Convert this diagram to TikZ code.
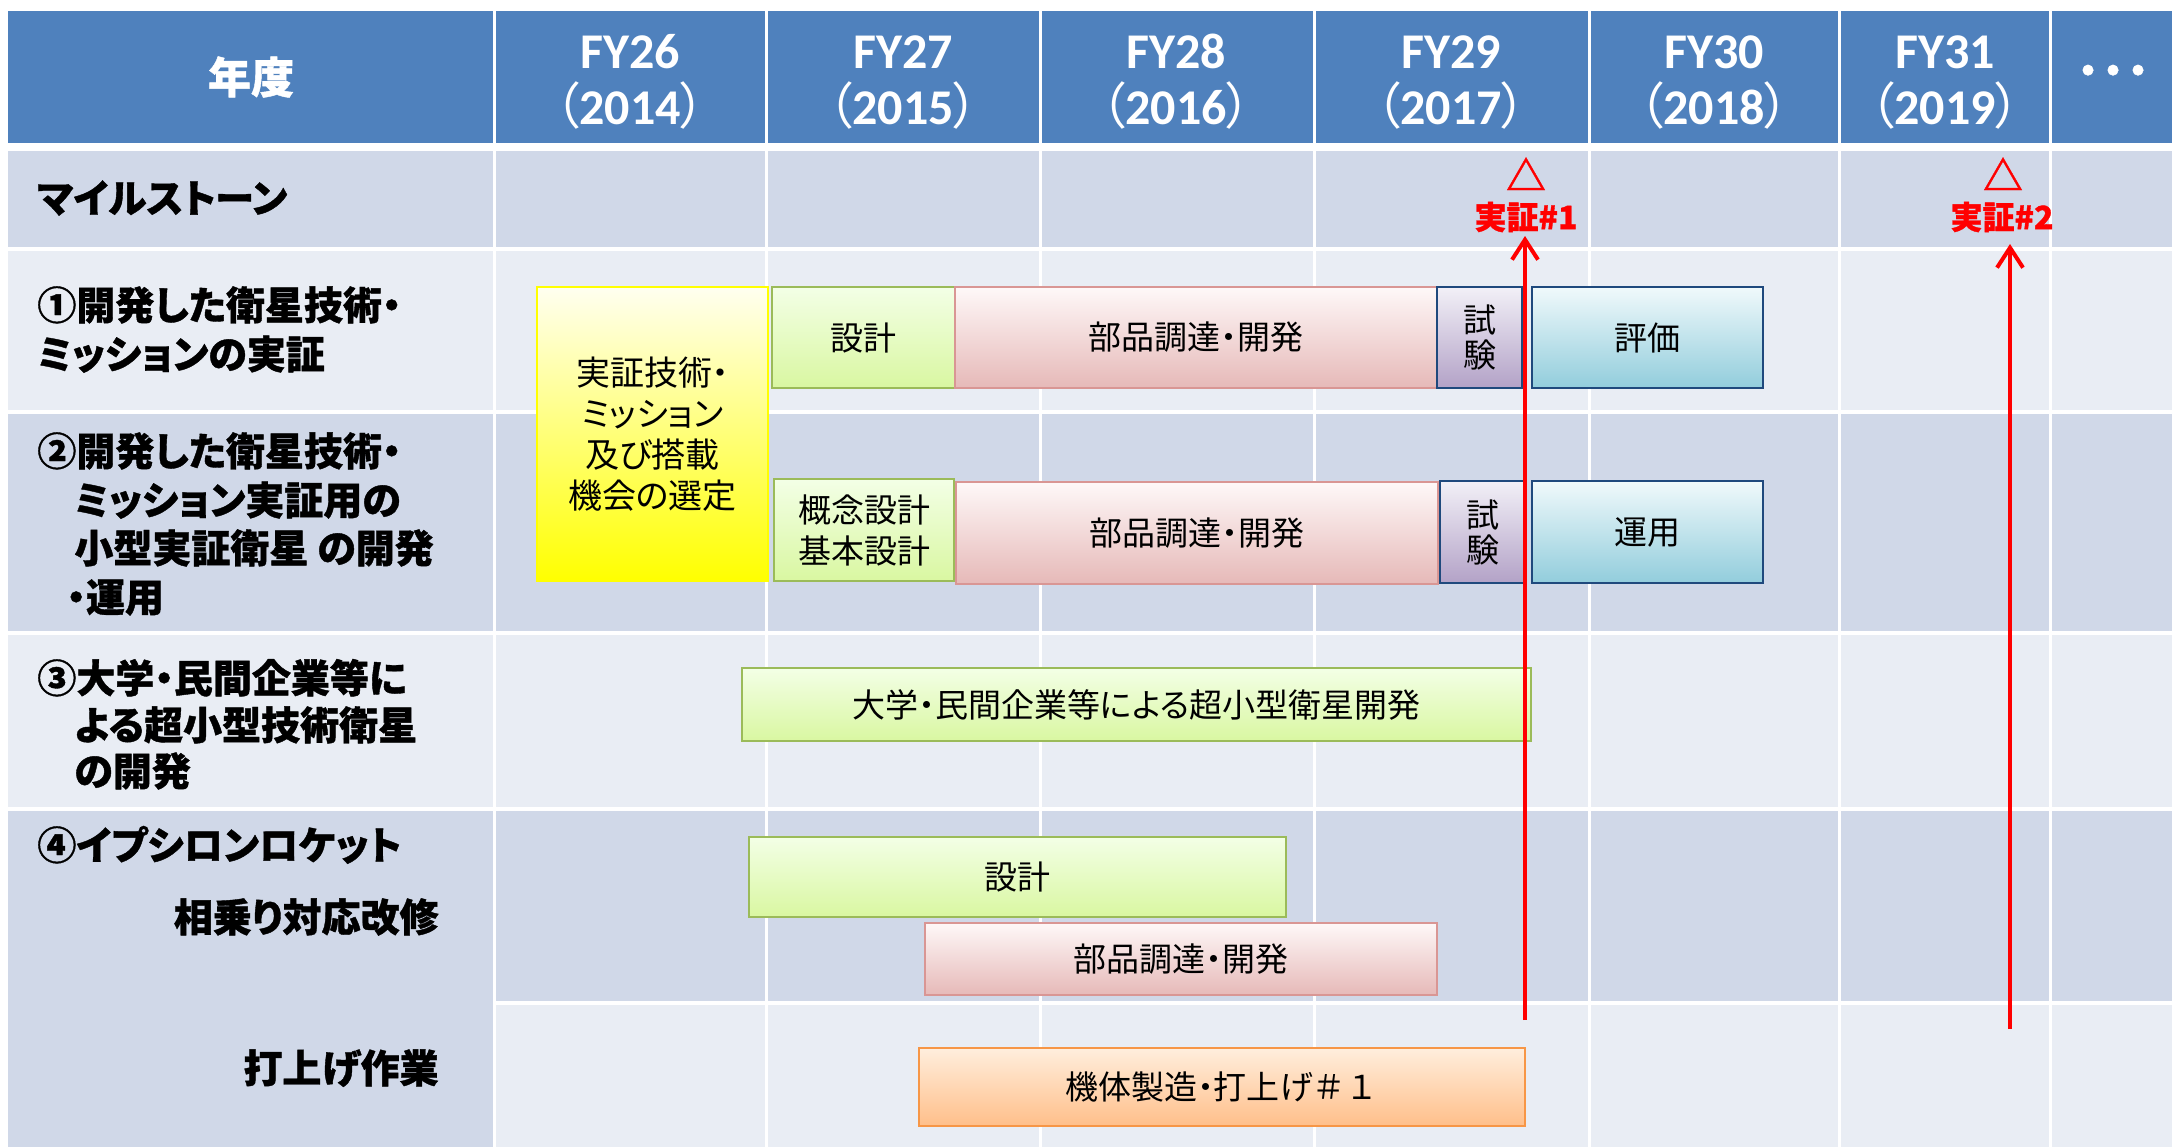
\documentclass[tikz,border=0pt]{standalone}
\usepackage{fontspec}
\setmainfont{Noto Sans CJK JP}[RawFeature=+palt, BoldFeatures={FakeBold=1}]
\newfontfamily\nopalt{Noto Sans CJK JP}
\newfontfamily\carl{Carlito}
\usetikzlibrary{arrows.meta}
\definecolor{hdr}{HTML}{4F81BD}
\definecolor{rowdk}{HTML}{D0D8E8}
\definecolor{rowlt}{HTML}{E9EDF4}
\definecolor{grnT}{HTML}{F3FFE6}
\definecolor{grnB}{HTML}{D9F7A1}
\definecolor{grnL}{HTML}{9BBB59}
\definecolor{pnkT}{HTML}{FEF8F8}
\definecolor{pnkB}{HTML}{E6B9B8}
\definecolor{pnkL}{HTML}{D99694}
\definecolor{prpT}{HTML}{F2F0F7}
\definecolor{prpB}{HTML}{B3A2C7}
\definecolor{bluT}{HTML}{F0F9FB}
\definecolor{bluB}{HTML}{92CDDC}
\definecolor{navL}{HTML}{1F497D}
\definecolor{ylwT}{HTML}{FFFFF0}
\definecolor{ylw}{HTML}{FFFF00}
\definecolor{orgT}{HTML}{FFEEDD}
\definecolor{orgB}{HTML}{FFBF8A}
\definecolor{orgL}{HTML}{F79646}
\definecolor{msred}{HTML}{FF0000}
\newcommand\taskbox[7]{%
  \pgfmathsetmacro\tbw{(#5-#3)*0.5}%
  \pgfmathsetmacro\tbh{(#6-#4)*0.5}%
  \node[#2, minimum width=\tbw pt, minimum height=\tbh pt] (#1) at ({(#3+#5)/2},{(#4+#6)/2}) {#7};}
\begin{document}
\begin{tikzpicture}[x=0.5pt,y=-0.5pt,
  lbl/.style={font=\bfseries\fontsize{19.5}{24}\selectfont, inner sep=0pt, text height=17.1pt, text depth=2.4pt},
  hd/.style={font=\bfseries\fontsize{25}{28}\selectfont, text=white, align=center, inner sep=0pt},
  barbase/.style={draw, line width=1.2pt, inner sep=0pt, align=center, font=\fontsize{16.5}{20.5}\selectfont, shading=axis},
  grnbar/.style={barbase, draw=grnL, top color=grnT, bottom color=grnB},
  pnkbar/.style={barbase, draw=pnkL, top color=pnkT, bottom color=pnkB},
  prpbar/.style={barbase, draw=navL, top color=prpT, bottom color=prpB, font=\fontsize{16.5}{17.5}\selectfont},
  blubar/.style={barbase, draw=navL, top color=bluT, bottom color=bluB},
  orgbar/.style={barbase, draw=orgL, top color=orgT, bottom color=orgB},
  ylwbar/.style={barbase, draw=ylw, top color=ylwT, middle color=ylw, bottom color=ylw, font=\fontsize{17}{20.5}\selectfont},
  mstri/.style={text=msred, font=\bfseries\fontsize{20}{20}\selectfont, inner sep=0pt},
  mstxt/.style={text=msred, font=\bfseries\fontsize{16}{16}\selectfont, inner sep=0pt},
  redarrow/.style={draw=msred, line width=2pt, -{Straight Barb[length=10pt, width=13pt, line width=2pt]}},
  gridline/.style={white, line width=1.5pt}]
\fill[white] (0,0) rectangle (2172,1147);
\useasboundingbox (0,0) rectangle (2172,1147);
% row bands
\fill[hdr] (8,11) rectangle (2172,143);
\fill[rowdk] (8,151) rectangle (2172,247);
\fill[rowlt] (8,251) rectangle (2172,410);
\fill[rowdk] (8,414) rectangle (2172,631);
\fill[rowlt] (8,635) rectangle (2172,807);
\fill[rowdk] (8,811) rectangle (2172,1001);
\fill[rowdk] (8,1000) rectangle (494,1147);
\fill[rowlt] (494,1005) rectangle (2172,1147);
\foreach \x in {494,766,1040,1314,1589,1839,2050} \draw[gridline] (\x,11) -- (\x,1147);
% header texts
\node[hd, font=\bfseries\fontsize{21.5}{24}\selectfont] (h0) at (251,77) {年度};
\node[hd] (h1) at (630,82) {{\carl FY26}\\{\mdseries （}{\carl 2014}{\mdseries ）}};
\node[hd] (h2) at (903,82) {{\carl FY27}\\{\mdseries （}{\carl 2015}{\mdseries ）}};
\node[hd] (h3) at (1176,82) {{\carl FY28}\\{\mdseries （}{\carl 2016}{\mdseries ）}};
\node[hd] (h4) at (1451,82) {{\carl FY29}\\{\mdseries （}{\carl 2017}{\mdseries ）}};
\node[hd] (h5) at (1714,82) {{\carl FY30}\\{\mdseries （}{\carl 2018}{\mdseries ）}};
\node[hd] (h6) at (1945,82) {{\carl FY31}\\{\mdseries （}{\carl 2019}{\mdseries ）}};
\node[hd] (h7) at (2113,77) {･･･};
% row labels
\node[lbl, anchor=west] (lm) at (37,198) {マイルストーン};
\node[lbl, anchor=west] (l1a) at (37,305) {①開発した衛星技術・};
\node[lbl, anchor=west] (l1b) at (37,354) {ミッションの実証};
\node[lbl, anchor=west] (l2a) at (37,451) {②開発した衛星技術・};
\node[lbl, anchor=west] (l2b) at (74,500) {ミッション実証用の};
\node[lbl, anchor=west] (l2c) at (74,548) {小型実証衛星 の開発};
\node[lbl, anchor=west] (l2d) at (66,597) {・運用};
\node[lbl, anchor=west] (l3a) at (37,678) {③大学・民間企業等に};
\node[lbl, anchor=west] (l3b) at (74,725) {よる超小型技術衛星};
\node[lbl, anchor=west] (l3c) at (74,771) {の開発};
\node[lbl, anchor=west] (l4a) at (37,845) {④イプシロンロケット};
\node[lbl, anchor=east] (l4b) at (439,917) {相乗り対応改修};
\node[lbl, anchor=east] (l4c) at (439,1068) {打上げ作業};
% task bars
\taskbox{sel}{ylwbar}{537}{287}{768}{581}{実証技術・\\ミッション\\及び搭載\\機会の選定}
\taskbox{d1}{grnbar}{772}{287}{955}{388}{設計}
\taskbox{p1}{pnkbar}{955}{287}{1437}{388}{部品調達・開発}
\taskbox{t1}{prpbar}{1437}{287}{1522}{388}{試\\験}
\taskbox{e1}{blubar}{1532}{287}{1763}{388}{評価}
\taskbox{d2}{grnbar}{774}{479}{954}{581}{概念設計\\基本設計}
\taskbox{p2}{pnkbar}{956}{482}{1438}{584}{部品調達・開発}
\taskbox{t2}{prpbar}{1440}{481}{1526}{583}{試\\験}
\taskbox{o2}{blubar}{1532}{481}{1763}{583}{運用}
\taskbox{u3}{grnbar}{742}{668}{1531}{741}{大学・民間企業等による超小型衛星開発}
\taskbox{d4}{grnbar}{749}{837}{1286}{917}{設計}
\taskbox{p4}{pnkbar}{925}{923}{1437}{995}{部品調達・開発}
\taskbox{k4}{orgbar}{919}{1048}{1525}{1126}{機体製造・打上げ{\nopalt ＃１}}
% milestones
\node[mstri] (m1t) at (1526,174) {△};
\node[mstxt] (m1x) at (1526,217) {実証\#1};
\node[mstri] (m2t) at (2003,174) {△};
\node[mstxt] (m2x) at (2002,217) {実証\#2};
\coordinate (a1b) at (1525,1020);
\coordinate (a1t) at (1525,236);
\coordinate (a2b) at (2010,1029);
\coordinate (a2t) at (2010,244);
\draw[redarrow] (a1b) -- (a1t);
\draw[redarrow] (a2b) -- (a2t);
\end{tikzpicture}
\end{document}
